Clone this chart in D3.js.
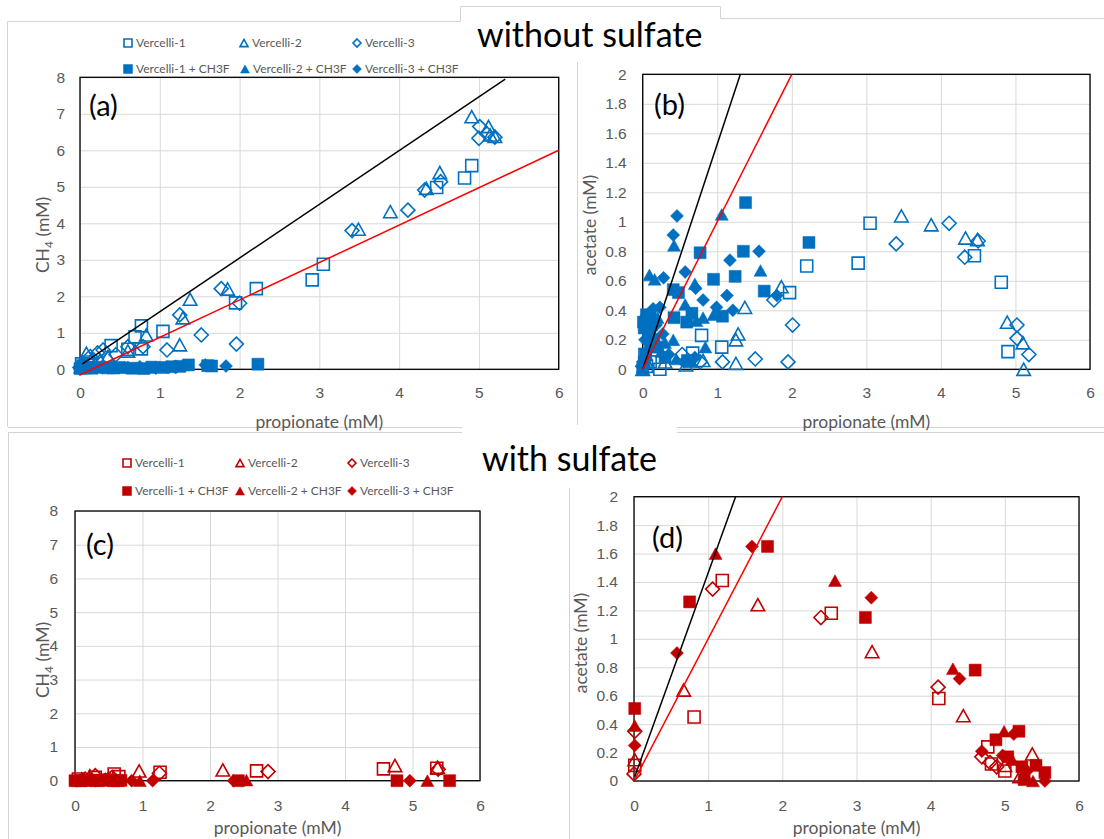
<!DOCTYPE html>
<html>
<head>
<meta charset="utf-8">
<script src="https://cdn.jsdelivr.net/npm/d3@7"></script>
<style>
  body { margin: 0; background: #fff; }
  svg { display: block; font-family: Lato, "Open Sans", sans-serif; }
  .tick text { fill: #595959; }
  .grid line { stroke: #d9d9d9; }
  .frame { stroke: #d4d4d4; fill: none; }
</style>
</head>
<body>
<svg id="fig" width="1104" height="839"></svg>
<script>
// ---- data: [propionate, product] pairs ----
const xTicks = [0, 1, 2, 3, 4, 5, 6];
const yTicksCH4 = [0, 1, 2, 3, 4, 5, 6, 7, 8];
const yTicksAcetate = [0, 0.2, 0.4, 0.6, 0.8, 1, 1.2, 1.4, 1.6, 1.8, 2];

const seriesNames = ['Vercelli-1', 'Vercelli-2', 'Vercelli-3',
  'Vercelli-1 + CH3F', 'Vercelli-2 + CH3F', 'Vercelli-3 + CH3F'];

// (a) CH4 without sulfate
const aV1 = [[0.02,0.15],[0.05,0.05],[0.1,0.2],[0.39,0.65],[0.6,0.55],[0.69,0.89],[0.77,1.19],[0.77,0.56],[1.04,1.04],[1.95,1.82],[2.21,2.21],[2.91,2.45],[3.05,2.88],[4.47,4.98],[4.82,5.24],[4.91,5.58]];
const aV2 = [[0.02,0.1],[0.08,0.44],[0.15,0.3],[0.25,0.25],[0.35,0.35],[0.6,0.5],[0.83,0.94],[1.25,0.67],[1.29,1.41],[1.38,1.92],[1.85,2.2],[3.49,3.84],[3.89,4.32],[4.34,4.96],[4.51,5.39],[4.91,6.92],[5.12,6.65],[5.14,6.42],[5.2,6.38]];
const aV3 = [[0,0.05],[0.13,0.35],[0.22,0.45],[0.29,0.53],[0.45,0.4],[0.6,0.62],[0.79,0.62],[1.09,0.53],[1.25,1.49],[1.52,0.94],[1.77,2.21],[1.96,0.69],[2.0,1.81],[3.41,3.8],[4.11,4.36],[4.32,4.91],[4.52,5.14],[5.0,6.33],[5.01,6.65],[5.1,6.45],[5.2,6.36]];
const aV1f = [[0,0.02],[0.03,0.1],[0.08,0.05],[0.15,0.03],[0.25,0.06],[0.35,0.04],[0.5,0.05],[0.65,0.03],[0.8,0.02],[0.9,0.06],[1.05,0.05],[1.15,0.07],[1.25,0.08],[1.36,0.12],[1.6,0.1],[1.65,0.09],[2.23,0.14]];
const aV2f = [[0,0.05],[0.05,0.12],[0.12,0.08],[0.2,0.05],[0.3,0.1],[0.42,0.03],[0.55,0.06],[0.7,0.04],[0.85,0.05],[1.0,0.07],[1.2,0.1],[1.3,0.12]];
const aV3f = [[0,0],[0.06,0.08],[0.18,0.06],[0.28,0.04],[0.4,0.08],[0.6,0.05],[0.75,0.07],[0.95,0.03],[1.1,0.06],[1.2,0.05],[1.57,0.12],[1.83,0.09]];
const aBlack = [[0.03,0.15],[5.33,7.95]];
const aRed = [[0,-0.15],[6,6.0]];

// (b) acetate without sulfate
const bV1 = [[0.03,0.1],[0.05,0.02],[0.1,0.05],[0.23,0],[0.67,0.11],[0.79,0.23],[1.06,0.15],[1.97,0.52],[2.2,0.7],[2.89,0.72],[3.05,0.99],[4.45,0.77],[4.81,0.59],[4.9,0.12]];
const bV2 = [[0,0],[0.05,0.05],[0.3,0.05],[0.58,0.03],[0.81,0.06],[1.25,0.04],[1.25,0.2],[1.28,0.24],[1.37,0.42],[1.86,0.56],[3.47,1.04],[3.87,0.98],[4.33,0.89],[4.49,0.88],[4.89,0.32],[5.1,0.18],[5.11,0]];
const bV3 = [[0,0.02],[0.53,0.1],[0.77,0.05],[1.07,0.05],[1.51,0.07],[1.76,0.47],[1.95,0.05],[2.01,0.3],[3.4,0.85],[4.11,0.99],[4.32,0.76],[4.5,0.87],[5.02,0.3],[5.02,0.21],[5.18,0.1]];
const bV1f = [[0,0],[0.02,0.05],[0.04,0.1],[0.01,0.32],[0.02,0.28],[0.05,0.33],[0.05,0.37],[0.08,0.25],[0.1,0.35],[0.12,0.3],[0.15,0.2],[0.2,0.15],[0.3,0.08],[0.41,0.54],[0.42,0.35],[0.48,0.52],[0.59,0.32],[0.6,0.06],[0.66,0.38],[0.77,0.79],[0.95,0.61],[1.07,0.36],[1.24,0.63],[1.35,0.8],[1.38,1.13],[1.63,0.53],[2.23,0.86]];
const bV2f = [[0,0.02],[0.05,0.1],[0.09,0.64],[0.14,0.24],[0.16,0.61],[0.2,0.35],[0.25,0.12],[0.3,0.18],[0.41,0.2],[0.42,0.84],[0.45,0.07],[0.57,0.44],[0.65,0.05],[0.7,0.58],[0.72,0.33],[0.81,0.35],[0.84,0.15],[0.95,0.37],[1.06,1.05],[1.58,0.67]];
const bV3f = [[0,0.05],[0.03,0.2],[0.08,0.36],[0.1,0.15],[0.14,0.41],[0.18,0.3],[0.23,0.42],[0.27,0.24],[0.28,0.62],[0.35,0.1],[0.41,0.91],[0.46,1.04],[0.55,0.05],[0.57,0.66],[0.7,0.08],[0.71,0.55],[0.81,0.47],[0.99,0.42],[1.13,0.5],[1.17,0.74],[1.21,0.4],[1.56,0.8],[1.8,0.5]];
const bBlack = [[0,0],[1.31,2]];
const bRed = [[0,0],[2,2]];

// (c) CH4 with sulfate
const cV1 = [[0.05,0.05],[0.3,0.1],[0.58,0.2],[0.65,0.12],[1.26,0.25],[2.69,0.29],[4.57,0.35],[5.36,0.37]];
const cV2 = [[0.1,0.05],[0.22,0.15],[0.5,0.08],[0.95,0.29],[2.19,0.32],[4.74,0.45],[5.37,0.4]];
const cV3 = [[0.15,0.05],[0.3,0.15],[0.55,0.1],[1.25,0.22],[2.86,0.27],[5.38,0.34]];
const cV1f = [[0,0],[0.1,0],[0.2,0.02],[0.28,0.01],[0.35,0],[0.42,0.02],[0.5,0.03],[0.57,0],[0.64,0],[0.68,0.01],[2.42,0],[4.77,0],[5.55,0]];
const cV2f = [[0.05,0],[0.14,0.02],[0.22,0.05],[0.32,0.03],[0.4,0.02],[0.55,0.01],[0.96,0],[2.54,0.02],[5.22,0]];
const cV3f = [[0.02,0],[0.08,0.01],[0.15,0.01],[0.24,0],[0.3,0],[0.38,0.02],[0.45,0.05],[0.6,0.01],[0.84,0],[1.15,0],[2.35,0],[4.96,0]];

// (d) acetate with sulfate
const dV1 = [[0.01,0.11],[0.81,0.45],[1.19,1.41],[2.66,1.18],[4.11,0.58],[4.77,0.24],[4.82,0.12],[5.0,0.07]];
const dV2 = [[0.01,0.15],[0.67,0.64],[1.67,1.24],[3.21,0.91],[4.44,0.46],[5.0,0.11],[5.2,0.03],[5.37,0.19]];
const dV3 = [[0,0.05],[0.01,0.35],[1.06,1.35],[2.52,1.15],[4.1,0.66],[4.69,0.17],[4.8,0.13],[4.89,0.1]];
const dV1f = [[0.01,0.51],[0.75,1.26],[1.8,1.65],[3.12,1.15],[4.6,0.78],[4.88,0.29],[5.04,0.17],[5.19,0.35],[5.23,0.1],[5.26,0.01],[5.42,0.11],[5.54,0.06]];
const dV2f = [[0.01,0.39],[1.1,1.6],[2.71,1.41],[4.3,0.79],[4.99,0.35],[5.1,0.15],[5.27,0.05],[5.38,0]];
const dV3f = [[0.01,0.25],[0.58,0.9],[1.59,1.65],[3.2,1.29],[4.39,0.72],[4.69,0.21],[4.97,0.18],[5.12,0.33],[5.3,0.07],[5.54,0]];
const dBlack = [[0.01,0.03],[1.37,2]];
const dRed = [[0.02,0.02],[2,2]];

const blue = '#0070c0';
const red = '#c00000';

// ---- marker shapes ----
const shapes = {
  square: s => `M${-s/2},${-s/2}h${s}v${s}h${-s}Z`,
  triangle: s => { const h = s * 0.9; return `M0,${-h/2}L${s/2},${h/2}L${-s/2},${h/2}Z`; },
  diamond: s => `M0,${-s/2}L${s/2},0L0,${s/2}L${-s/2},0Z`
};
const markerStyle = [
  {shape: 'square', size: 12, filled: false},
  {shape: 'triangle', size: 13.5, filled: false},
  {shape: 'diamond', size: 14, filled: false},
  {shape: 'square', size: 12, filled: true},
  {shape: 'triangle', size: 13, filled: true},
  {shape: 'diamond', size: 13, filled: true}
];

const svg = d3.select('#fig');

// frames of the pasted chart boxes
const frame = svg.append('g').attr('class', 'frame');
frame.append('path').attr('d', 'M7.5,427 V21.5 H460.5 V6.5 H720.5 V18.5 H1104');
frame.append('path').attr('d', 'M577.5,62 V425');
frame.append('path').attr('d', 'M8,427.5 H462 M677,427.5 H1104 M8,432.5 H462 M677,432.5 H1104');
frame.append('path').attr('d', 'M8.5,433 V839');
frame.append('path').attr('d', 'M569.5,488 V839');

function legend(g, colour, x, y) {
  const items = [
    [x[0], y[0]], [x[1], y[0]], [x[2], y[0]],
    [x[3], y[1]], [x[4], y[1]], [x[5], y[1]]
  ];
  items.forEach((p, i) => {
    const m = markerStyle[i];
    g.append('path')
      .attr('transform', `translate(${p[0]},${p[1]})`)
      .attr('d', shapes[m.shape](m.filled ? 9 : 8))
      .attr('fill', m.filled ? colour : 'none')
      .attr('stroke', colour)
      .attr('stroke-width', m.filled ? 0.5 : 1.6);
    g.append('text')
      .attr('x', p[0] + 8).attr('y', p[1]).attr('dy', '0.35em')
      .attr('fill', '#595959').style('font-size', '12px')
      .text(seriesNames[i]);
  });
}

function drawPanel(cfg) {
  const x = d3.scaleLinear().domain([0, 6]).range([cfg.left, cfg.right]);
  const y = d3.scaleLinear().domain([0, cfg.yMax]).range([cfg.bottom, cfg.top]);
  const w = cfg.right - cfg.left, h = cfg.bottom - cfg.top;
  const g = svg.append('g');

  // gridlines
  g.append('g').attr('class', 'grid')
    .attr('transform', `translate(0,${cfg.bottom})`)
    .call(d3.axisBottom(x).tickValues(xTicks).tickSize(-h).tickFormat(''))
    .call(s => s.select('.domain').remove());
  g.append('g').attr('class', 'grid')
    .attr('transform', `translate(${cfg.left},0)`)
    .call(d3.axisLeft(y).tickValues(cfg.yTicks).tickSize(-w).tickFormat(''))
    .call(s => s.select('.domain').remove());

  // tick labels
  g.append('g')
    .attr('transform', `translate(0,${cfg.bottom})`)
    .call(d3.axisBottom(x).tickValues(xTicks).tickSize(0).tickPadding(cfg.xPad).tickFormat(d3.format('d')))
    .call(s => s.select('.domain').remove())
    .selectAll('text').style('font-size', '15.5px');
  g.append('g')
    .attr('transform', `translate(${cfg.left},0)`)
    .call(d3.axisLeft(y).tickValues(cfg.yTicks).tickSize(0).tickPadding(cfg.yPad).tickFormat(d => String(d)))
    .call(s => s.select('.domain').remove())
    .selectAll('text').style('font-size', '15.5px');

  // plot area border
  g.append('rect')
    .attr('x', cfg.left).attr('y', cfg.top).attr('width', w).attr('height', h)
    .attr('fill', 'none').attr('stroke', '#000').attr('stroke-width', 1.3);

  // markers
  cfg.series.forEach((data, i) => {
    const m = markerStyle[i];
    g.append('g').selectAll('path')
      .data(data)
      .join('path')
      .attr('transform', d => `translate(${x(d[0])},${y(d[1])})`)
      .attr('d', shapes[m.shape](m.size))
      .attr('fill', m.filled ? cfg.colour : 'none')
      .attr('stroke', cfg.colour)
      .attr('stroke-width', m.filled ? 0.5 : 1.6);
  });

  // reference lines
  const line = d3.line().x(d => x(d[0])).y(d => y(d[1]));
  if (cfg.black) {
    g.append('path').datum(cfg.black).attr('d', line)
      .attr('fill', 'none').attr('stroke', '#000').attr('stroke-width', 1.5);
    g.append('path').datum(cfg.red).attr('d', line)
      .attr('fill', 'none').attr('stroke', '#ff0000').attr('stroke-width', 1.5);
  }

  // axis titles
  g.append('text')
    .attr('x', (cfg.left + cfg.right) / 2).attr('y', cfg.xTitleY).attr('dy', '0.35em')
    .attr('text-anchor', 'middle').attr('fill', '#595959').style('font-size', '17.5px')
    .text('propionate (mM)');
  const yt = g.append('text')
    .attr('transform', `translate(${cfg.yTitle[0]},${cfg.yTitle[1]}) rotate(-90)`)
    .attr('dy', '0.35em')
    .attr('text-anchor', 'middle').attr('fill', '#595959').style('font-size', '17.5px');
  if (cfg.yLabel === 'CH4') {
    yt.append('tspan').text('CH');
    yt.append('tspan').attr('dy', '4').style('font-size', '12px').text('4');
    yt.append('tspan').attr('dy', '-4').text('\u00a0(mM)');
  } else {
    yt.text(cfg.yLabel);
  }

  // panel letter
  g.append('text')
    .attr('x', cfg.letter[0]).attr('y', cfg.letter[1]).attr('dy', '0.35em')
    .attr('fill', '#000').style('font-size', '29px')
    .text(cfg.name);
}

const panels = [
  {name: '(a)', left: 80, right: 558.7, top: 77.3, bottom: 369.3, yMax: 8, yTicks: yTicksCH4,
   xPad: 18, yPad: 15, xTitleY: 422, yTitle: [43, 235], yLabel: 'CH4', letter: [89, 106],
   colour: blue, series: [aV1, aV2, aV3, aV1f, aV2f, aV3f], black: aBlack, red: aRed},
  {name: '(b)', left: 642.7, right: 1090, top: 74.3, bottom: 369.3, yMax: 2, yTicks: yTicksAcetate,
   xPad: 18, yPad: 16, xTitleY: 422, yTitle: [590, 225], yLabel: 'acetate (mM)', letter: [654, 105],
   colour: blue, series: [bV1, bV2, bV3, bV1f, bV2f, bV3f], black: bBlack, red: bRed},
  {name: '(c)', left: 75, right: 480, top: 511, bottom: 780.7, yMax: 8, yTicks: yTicksCH4,
   xPad: 19, yPad: 17, xTitleY: 828, yTitle: [43, 660], yLabel: 'CH4', letter: [86, 545],
   colour: red, series: [cV1, cV2, cV3, cV1f, cV2f, cV3f], black: null, red: null},
  {name: '(d)', left: 634, right: 1079, top: 496.7, bottom: 781, yMax: 2, yTicks: yTicksAcetate,
   xPad: 19, yPad: 16, xTitleY: 828, yTitle: [581, 643], yLabel: 'acetate (mM)', letter: [652, 538],
   colour: red, series: [dV1, dV2, dV3, dV1f, dV2f, dV3f], black: dBlack, red: dRed}
];

panels.forEach(p => drawPanel(p));

// legends
legend(svg.append('g'), blue, [128, 244, 357, 128, 245, 357], [43, 69]);
legend(svg.append('g'), red, [127, 240, 352, 127, 240, 352], [463, 491]);

// section titles on white tabs (the top tab clips the end of the legend)
svg.append('rect').attr('x', 461).attr('y', 7).attr('width', 259).attr('height', 54).attr('fill', '#fff');
svg.append('rect').attr('x', 463).attr('y', 60).attr('width', 30).attr('height', 15).attr('fill', '#fff');
svg.append('text').attr('x', 477).attr('y', 47).attr('fill', '#000')
  .style('font-size', '34px').text('without sulfate');
svg.append('rect').attr('x', 462).attr('y', 425).attr('width', 215).attr('height', 12).attr('fill', '#fff');
svg.append('text').attr('x', 482).attr('y', 471).attr('fill', '#000')
  .style('font-size', '34px').text('with sulfate');
</script>
</body>
</html>
